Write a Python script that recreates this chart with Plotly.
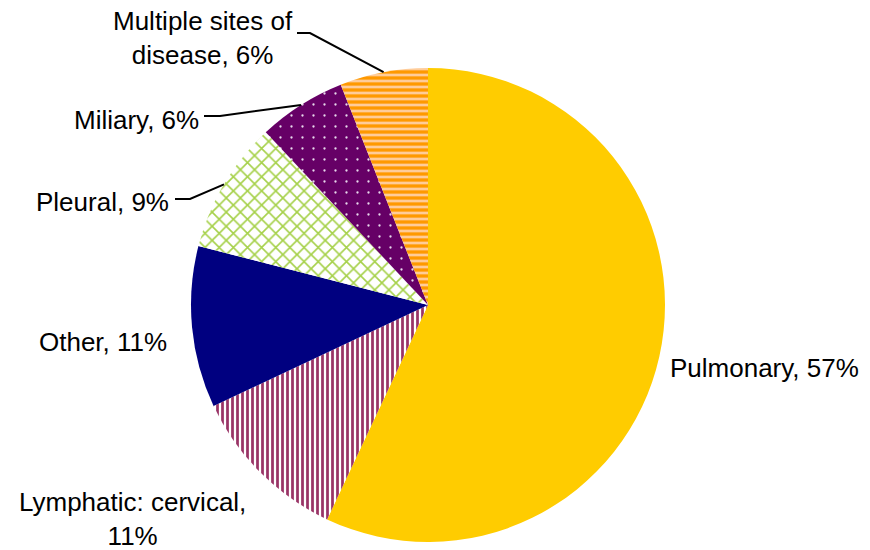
import math
import plotly.graph_objects as go

# Extrapulmonary / pulmonary TB site distribution
sites = ["Pulmonary", "Lymphatic: cervical", "Other", "Pleural", "Miliary",
         "Multiple sites of disease"]
shares = [57, 11, 11, 9, 6, 6]

# Fill styling per slice
base_colors = ["#FFCC00", "#FFFFFF", "#000080", "#FFFFFF", "#660066", "#FF9900"]
pattern_shapes = ["", "|", "", "x", ".", "-"]
pattern_fg = ["#FFCC00", "#993366", "#000080", "#A6D14A", "#E8D8EC", "#FFCC99"]
pattern_bg = ["#FFCC00", "#FFFFFF", "#000080", "#FFFFFF", "#660066", "#FF9900"]
pattern_size = [8, 5, 8, 10, 11, 6]
pattern_solidity = [0.5, 0.55, 0.5, 0.3, 0.035, 0.45]

W, H = 870, 550
CX, CY, R = 428, 305, 237  # pie centre and radius in pixels

fig = go.Figure(go.Pie(
    labels=sites,
    values=shares,
    sort=False,
    direction="clockwise",
    rotation=0,
    textinfo="none",
    hoverinfo="label+percent",
    showlegend=False,
    domain=dict(x=[(CX - R) / W, (CX + R) / W],
                y=[1 - (CY + R) / H, 1 - (CY - R) / H]),
    marker=dict(
        colors=base_colors,
        line=dict(width=0),
        pattern=dict(shape=pattern_shapes, fgcolor=pattern_fg,
                     bgcolor=pattern_bg, size=pattern_size,
                     solidity=pattern_solidity, fillmode="replace"),
    ),
))


def px(x, y):
    return x / W, 1 - y / H


def edge_point(i):
    """Point on the rim at the middle of slice i (clockwise from 12 o'clock)."""
    total = sum(shares)
    start = sum(shares[:i]) / total * 360
    mid = math.radians(start + shares[i] / total * 180)
    return CX + R * math.sin(mid), CY - R * math.cos(mid)


FONT = dict(family="Liberation Sans, Arial, sans-serif", size=26, color="#000000")

# label text, anchor pixel, x-anchor
label_specs = [
    (0, "Pulmonary, 57%", (668, 368), "left"),
    (1, "Lymphatic: cervical,<br>11%", (132, 519), "center"),
    (2, "Other, 11%", (169, 342), "right"),
    (3, "Pleural, 9%", (171, 202), "right"),
    (4, "Miliary, 6%", (201, 120), "right"),
    (5, "Multiple sites of<br>disease, 6%", (203, 38), "center"),
]

for i, text, (x, y), xa in label_specs:
    ax, ay = px(x, y)
    fig.add_annotation(x=ax, y=ay, xref="paper", yref="paper", text=text,
                       showarrow=False, xanchor=xa, yanchor="middle",
                       align="center", font=FONT)

# leader lines: label end -> short horizontal run -> slice rim
leaders = [
    (3, (175, 199), (190, 199)),
    (4, (204, 116), (220, 116)),
    (5, (297, 33), (310, 33)),
]
for i, p0, p1 in leaders:
    ex, ey = edge_point(i)
    pts = [px(*p0), px(*p1), px(ex, ey)]
    path = "M {} {} L {} {} L {} {}".format(*[c for p in pts for c in p])
    fig.add_shape(type="path", path=path, xref="paper", yref="paper",
                  line=dict(color="#000000", width=2))

fig.update_layout(
    width=W, height=H,
    margin=dict(l=0, r=0, t=0, b=0),
    paper_bgcolor="#FFFFFF",
    plot_bgcolor="#FFFFFF",
)

fig.write_html("out.html")
